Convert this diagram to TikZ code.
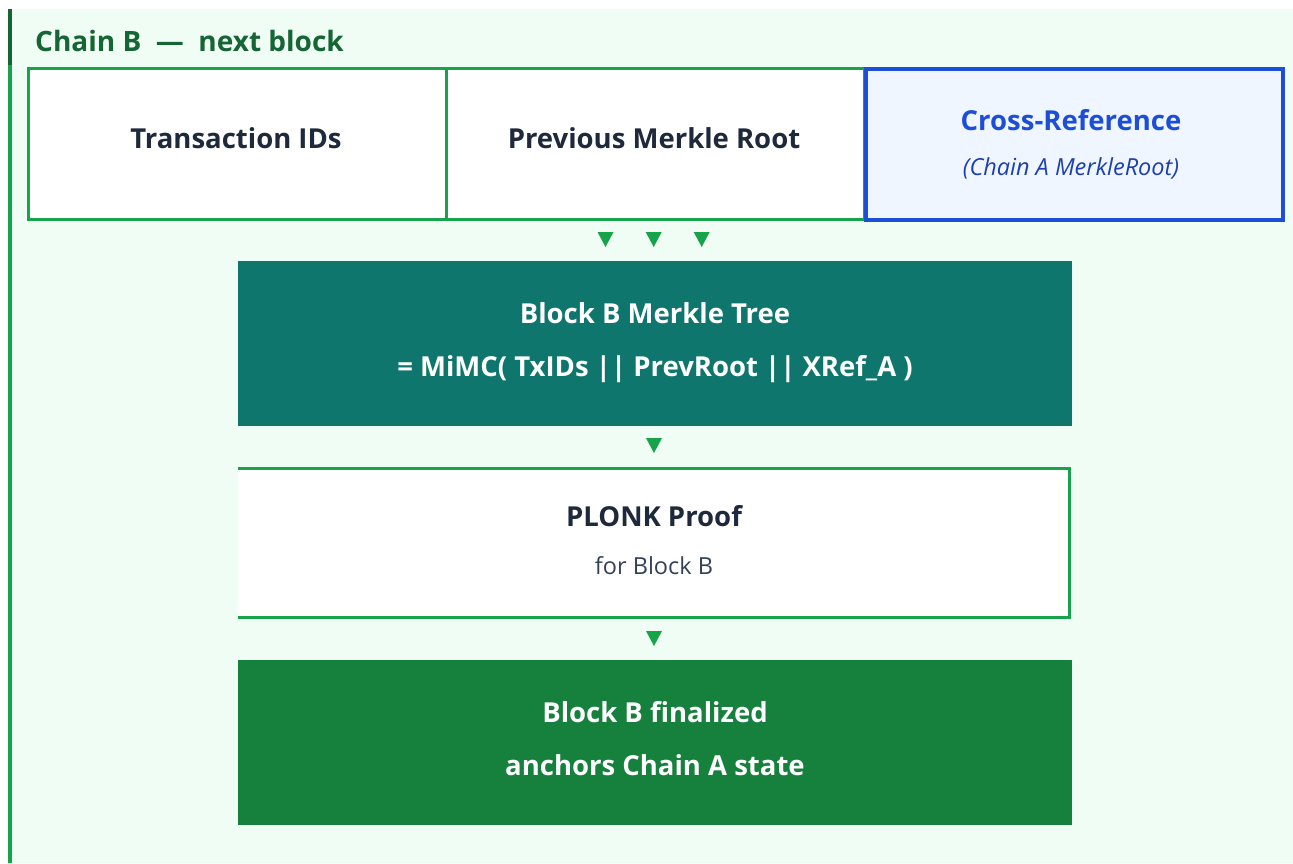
\documentclass[tikz,border=0pt]{standalone}
\usepackage{fontspec}
\setmainfont{Open Sans}
\definecolor{mint}{HTML}{F0FDF4}
\definecolor{leaf}{HTML}{16A34A}
\definecolor{forest}{HTML}{166534}
\definecolor{teal}{HTML}{0F766E}
\definecolor{done}{HTML}{16803D}
\definecolor{ink}{HTML}{1E293B}
\definecolor{slate}{HTML}{334155}
\definecolor{royal}{HTML}{1D4ED8}
\definecolor{navyit}{HTML}{1E40AF}
\definecolor{skyfill}{HTML}{EFF6FF}
\tikzset{
  field/.style={draw=leaf, line width=3pt, fill=white, minimum width=418pt, minimum height=151pt, inner sep=0pt, anchor=north west},
  xref/.style={draw=royal, line width=3.5pt, fill=skyfill, minimum width=417pt, minimum height=151pt, inner sep=0pt, anchor=north west},
  stage/.style={minimum width=834pt, minimum height=165pt, inner sep=0pt, anchor=north west},
  stagetext/.style={align=center, text=white, inner sep=0pt, font=\fontsize{27.5}{53}\selectfont\bfseries},
  tri/.style={fill=leaf},
  lbl/.style={font=\fontsize{27.5}{32}\selectfont\bfseries, text=ink},
  sublbl/.style={font=\fontsize{23.5}{28}\selectfont},
  subit/.style={font=\fontsize{23.5}{28}\selectfont\itshape},
}
\begin{document}
\begin{tikzpicture}[x=1pt, y=-1pt]
\useasboundingbox (0,0) rectangle (1293,863);
\fill[white] (0,0) rectangle (1293,863);
% panel
\fill[mint] (8,9) rectangle (1293,863);
\fill[forest] (8,9) rectangle (12,65);
\fill[leaf] (8,65) rectangle (12,863);
\node[anchor=base west, inner sep=0pt, text=forest, font=\fontsize{28}{32}\selectfont\bfseries] (title) at (35,51) {Chain B \ — \ next block};

% header fields
\node[field] (tx) at (27,67) {};
\node[field] (prev) at (445,67) {};
\node[xref] (xr) at (864,67) {};
\node[lbl] (txl) at (236,138) {Transaction IDs};
\node[lbl] (prevl) at (654,138) {Previous Merkle Root};
\node[lbl, text=royal] (xrl) at (1071,120) {Cross-Reference};
\node[subit, text=navyit] (xrs) at (1071,168) {(Chain A MerkleRoot)};

% small down markers
\foreach \cx/\ty in {605.5/232, 653.7/232, 701.7/232, 654/438, 654/631}
  \fill[tri] (\cx-8,\ty) -- (\cx+8,\ty) -- (\cx,\ty+15) -- cycle;

% Merkle tree stage
\node[stage, fill=teal] (mt) at (238,261) {};
\node[stagetext] (mtl) at (655,342.5) {Block B Merkle Tree\\= MiMC( TxIDs || PrevRoot || XRef\_A )};

% proof stage
\fill[white] (238,467) rectangle (1070,619);
\draw[leaf, line width=3pt] (238,468) -- (1069.5,468) -- (1069.5,617.5) -- (238,617.5);
\node[lbl] (pp) at (654,516) {PLONK Proof};
\node[sublbl, text=slate] (ppb) at (654,566) {for Block B};

% final stage
\node[stage, fill=done] (fin) at (238,660) {};
\node[stagetext] (finl) at (655,739) {Block B finalized\\anchors Chain A state};
\end{tikzpicture}
\end{document}
